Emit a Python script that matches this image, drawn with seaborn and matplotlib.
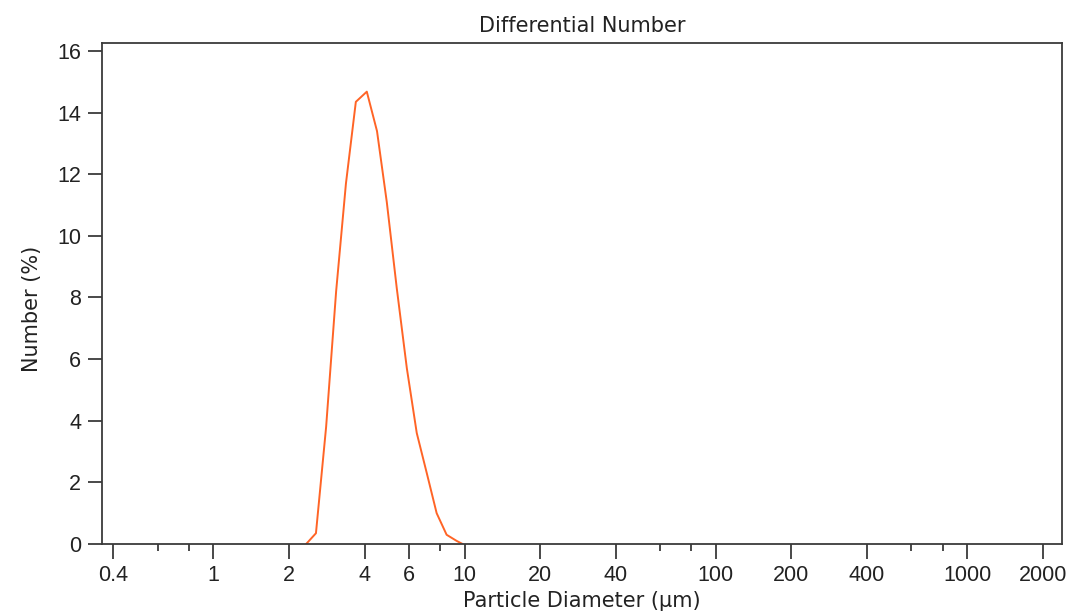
import numpy as np
import pandas as pd
import matplotlib
matplotlib.use('Agg')
import matplotlib.pyplot as plt
import seaborn as sns

# particle diameter (um) and differential number (%)
diameter = [2.34, 2.56, 2.81, 3.08, 3.37, 3.69, 4.08, 4.48, 4.90, 5.37,
            5.89, 6.45, 7.07, 7.74, 8.48, 9.30, 9.82]
number = [0.0, 0.35, 3.8, 8.2, 11.7, 14.35, 14.68, 13.4, 11.1, 8.3,
          5.7, 3.6, 2.3, 1.0, 0.3, 0.1, 0.0]

major_ticks = [0.4, 1, 2, 4, 6, 10, 20, 40, 100, 200, 400, 1000, 2000]
major_labels = ['0.4', '1', '2', '4', '6', '10', '20', '40', '100', '200', '400', '1000', '2000']
minor_ticks = [0.6, 0.8, 8, 60, 80, 600, 800]
y_ticks = [0, 2, 4, 6, 8, 10, 12, 14, 16]

df = pd.DataFrame({'d': diameter, 'n': number})

sns.set_style('white')
plt.rcParams['font.family'] = ['Liberation Sans', 'DejaVu Sans']
axc = '#3a3a3a'
txt = '#222222'

fig = plt.figure(figsize=(10.72, 6.14), dpi=100)
ax = fig.add_axes([0.0951, 0.114, 0.8952, 0.8155])

sns.lineplot(data=df, x='d', y='n', ax=ax, color='#ff6426', linewidth=1.4)

ax.set_xscale('log')
ax.set_xlim(0.36, 2380)
ax.set_ylim(0, 16.25)

ax.set_xticks(major_ticks)
ax.set_xticklabels(major_labels)
ax.set_xticks(minor_ticks, minor=True)
ax.set_xticklabels([], minor=True)
ax.set_yticks(y_ticks)
ax.set_yticklabels([str(v) for v in y_ticks])

ax.tick_params(axis='x', which='major', direction='out', length=11, width=1.3,
               color=axc, labelsize=15.5, labelcolor=txt, pad=4, bottom=True)
ax.tick_params(axis='x', which='minor', direction='out', length=5, width=1.3,
               color=axc, bottom=True)
ax.tick_params(axis='y', which='major', direction='out', length=10, width=1.3,
               color=axc, labelsize=15.5, labelcolor=txt, pad=5, left=True)

for s in ax.spines.values():
    s.set_visible(True)
    s.set_color(axc)
    s.set_linewidth(1.3)

lab_font = {'family': ['DejaVu Sans'], 'size': 15, 'color': txt}
ax.set_title('Differential Number', fontdict=lab_font, pad=8)
ax.set_xlabel('Particle Diameter (\u00b5m)', fontdict=lab_font, labelpad=4)
ax.set_ylabel('Number (%)', fontdict=lab_font)
ax.yaxis.set_label_coords(-0.062, 0.47)

fig.savefig('out.png', dpi=100)
